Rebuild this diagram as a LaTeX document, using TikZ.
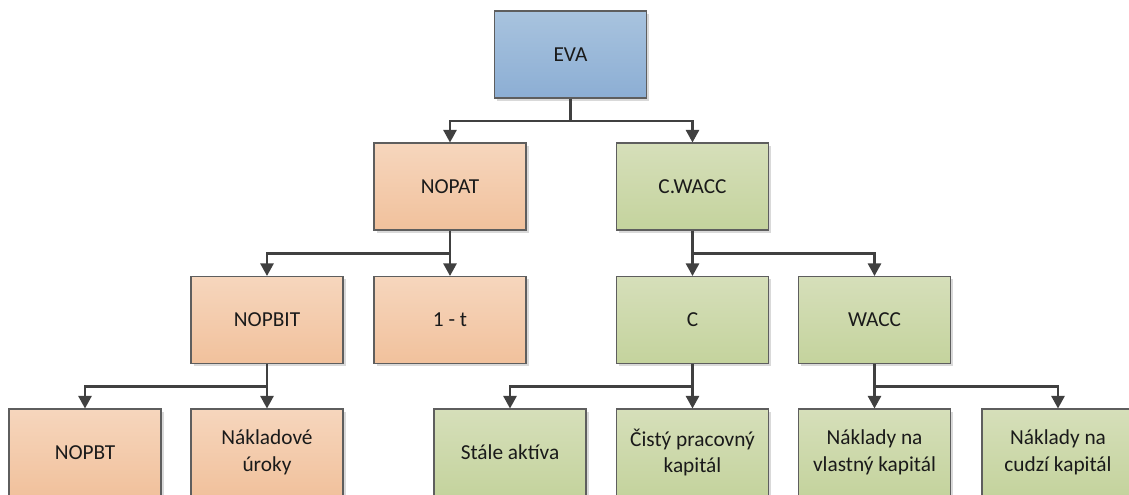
\documentclass[tikz,border=0pt]{standalone}
\usepackage{fontspec}
\setmainfont{Carlito}
\usetikzlibrary{shadows,arrows.meta,calc}
\definecolor{blueT}{HTML}{A8C3DE}
\definecolor{blueB}{HTML}{8CAED4}
\definecolor{orT}{HTML}{F6D6BD}
\definecolor{orB}{HTML}{F1C19C}
\definecolor{grT}{HTML}{D6DFBA}
\definecolor{grB}{HTML}{C4D39D}
\definecolor{lineC}{HTML}{404040}
\definecolor{borderC}{HTML}{5E5E5E}
\definecolor{textC}{HTML}{1A1A1A}
\tikzset{
  box/.style={draw=borderC, line width=0.8pt, minimum width=114pt, minimum height=65.25pt,
    inner sep=0pt, align=center, text=textC, font=\fontsize{16}{20}\selectfont,
    drop shadow={shadow xshift=2.2pt, shadow yshift=-2.2pt, fill=black!15, opacity=1}},
  bluebox/.style={box, top color=blueT, bottom color=blueB},
  orbox/.style={box, top color=orT, bottom color=orB},
  grbox/.style={box, top color=grT, bottom color=grB},
  conn/.style={draw=lineC, line width=1.6pt, -{Triangle[length=9.5pt,width=10pt]}}
}
\begin{document}
\begin{tikzpicture}[x=0.75pt, y=-0.75pt]
\useasboundingbox (0,0) rectangle (1129,495);
\clip (0,0) rectangle (1129,495);
% row 1
\node[bluebox] (eva) at (570.5,54.5) {EVA};
% row 2
\node[orbox] (nopat) at (450,186.5) {NOPAT};
\node[grbox] (cwacc) at (692.5,186.5) {C.WACC};
% row 3
\node[orbox] (nopbit) at (267,320) {NOPBIT};
\node[orbox] (onet) at (450,320) {1 - t};
\node[grbox] (c) at (692.5,320) {C};
\node[grbox] (wacc) at (874.5,320) {WACC};
% row 4
\node[orbox] (nopbt) at (85,452.5) {NOPBT};
\node[orbox] (nakl) at (267,452.5) {Nákladové\\úroky};
\node[grbox] (stale) at (510,452.5) {Stále aktíva};
\node[grbox] (cisty) at (692.5,452.5) {Čistý pracovný\\kapitál};
\node[grbox] (vlast) at (874.5,452.5) {Náklady na\\vlastný kapitál};
\node[grbox] (cudzi) at (1058,452.5) {Náklady na\\cudzí kapitál};
% connectors
\draw[conn] (eva.south) -- ++(0,22.5) -| (nopat.north);
\draw[conn] (eva.south) -- ++(0,22.5) -| (cwacc.north);
\draw[conn] (nopat.south) -- ++(0,23) -| (nopbit.north);
\draw[conn] (nopat.south) -- (onet.north);
\draw[conn] (cwacc.south) -- (c.north);
\draw[conn] (cwacc.south) -- ++(0,23) -| (wacc.north);
\draw[conn] (nopbit.south) -- ++(0,22.5) -| (nopbt.north);
\draw[conn] (nopbit.south) -- (nakl.north);
\draw[conn] (c.south) -- ++(0,22.5) -| (stale.north);
\draw[conn] (c.south) -- (cisty.north);
\draw[conn] (wacc.south) -- (vlast.north);
\draw[conn] (wacc.south) -- ++(0,22.5) -| (cudzi.north);
\end{tikzpicture}
\end{document}
